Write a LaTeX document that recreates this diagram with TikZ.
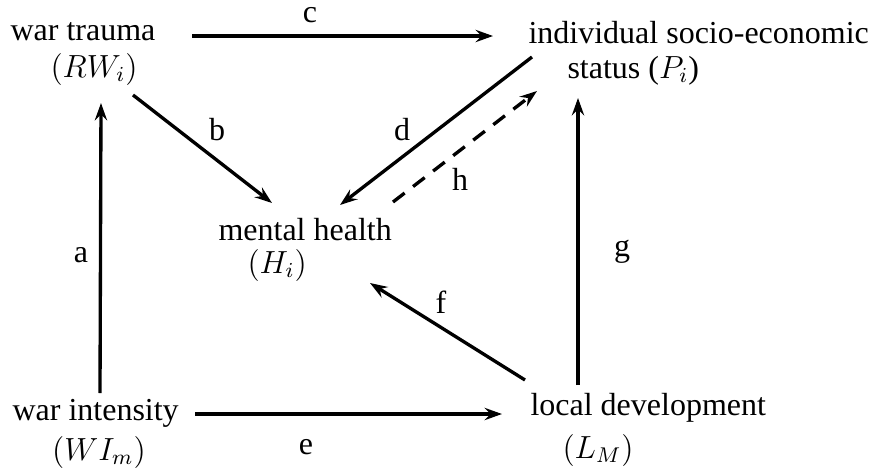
\documentclass[tikz,border=0pt,12pt]{standalone}
\usepackage{fontspec}
\setmainfont{Liberation Serif}
\usetikzlibrary{arrows.meta}
\tikzset{
  concept/.style={anchor=base west, inner sep=0pt},
  symb/.style={anchor=base west, inner sep=0pt},
  pathlabel/.style={anchor=base, inner sep=0pt},
  link/.style={-{Stealth[length=6.5pt,width=4.6pt,inset=2.2pt]}, line width=1.25pt},
  weaklink/.style={link, dash pattern=on 5.5pt off 4pt}
}
\begin{document}
\begin{tikzpicture}[x=0.375pt, y=-0.375pt, font=\fontsize{12}{14.5}\selectfont]
  \useasboundingbox (0,0) rectangle (869,472);

  % Variables
  \node[concept] (trauma) at (10,40) {war trauma};
  \node[symb] (traumasym) at (50,77) {$(RW_i)$};
  \node[concept] (status) at (528,43) {individual socio-economic};
  \node[symb] (statussym) at (567,78) {status ($P_i$)};
  \node[concept] (health) at (218,240) {mental health};
  \node[symb] (healthsym) at (247,273) {$(H_i)$};
  \node[concept] (intensity) at (12,420) {war intensity};
  \node[anchor=base, inner sep=0pt] (intensitysym) at (99,460) {$(WI_m)$};
  \node[concept] (local) at (530,415) {local development};
  \node[symb] (localsym) at (562,458) {$(L_M)$};

  % Paths between variables
  \draw[link] ([shift={(88,-27)}]intensity.base west) -- ([shift={(51,26)}]traumasym.base west);
  \draw[link] ([shift={(83,18)}]traumasym.base west) -- ([shift={(54,-37)}]health.base west);
  \draw[link] ([shift={(182,-4)}]trauma.base west) -- ([shift={(-35,-7)}]status.base west);
  \draw[link] ([shift={(4,14)}]status.base west) -- ([shift={(122,-35)}]health.base west);
  \draw[link] ([shift={(183,-6)}]intensity.base west) -- ([shift={(-28,-1)}]local.base west);
  \draw[link] ([shift={(-5,-35)}]local.base west) -- ([shift={(123,10)}]healthsym.base west);
  \draw[link] ([shift={(48,-30)}]local.base west) -- ([shift={(11,20)}]statussym.base west);
  \draw[weaklink] ([shift={(175,-38)}]health.base west) -- ([shift={(-30,13)}]statussym.base west);

  % Path labels
  \node[pathlabel] (la) at (81,262) {a};
  \node[pathlabel] (lb) at (217,140) {b};
  \node[pathlabel] (lc) at (310,22) {c};
  \node[pathlabel] (ld) at (402,140) {d};
  \node[pathlabel] (le) at (306,454) {e};
  \node[pathlabel] (lf) at (441,313) {f};
  \node[pathlabel] (lg) at (622,256) {g};
  \node[pathlabel] (lh) at (460,190) {h};
\end{tikzpicture}
\end{document}
